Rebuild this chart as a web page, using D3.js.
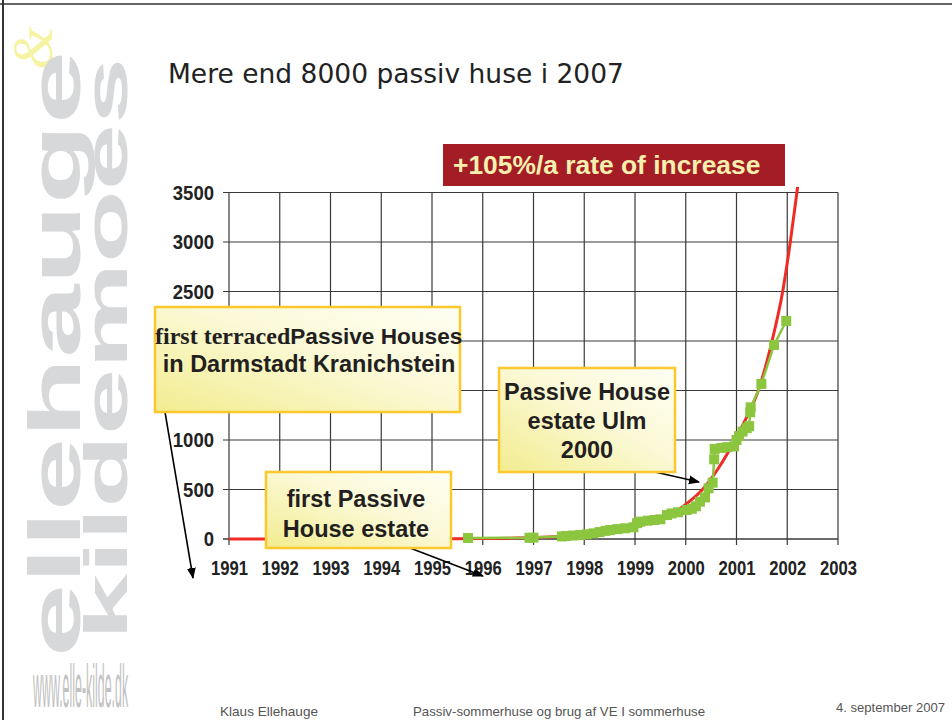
<!DOCTYPE html>
<html>
<head>
<meta charset="utf-8">
<script src="https://cdn.jsdelivr.net/npm/d3@7/dist/d3.min.js"></script>
<style>
  body { margin: 0; background: #fff; }
  svg { display: block; }
</style>
</head>
<body>
<div id="chart"></div>
<script>
// x axis: years shown on the chart
var yearTicks = d3.range(1991, 2004);
var valueTicks = [0, 500, 1000, 1500, 2000, 2500, 3000, 3500];
// 1500 and 2000 sit behind the Darmstadt note box in the original
var hiddenLabels = [1500, 2000];

// green series: cumulative number of passive houses
var houseYears = [1995.71, 1996.92, 1997.0, 1997.56, 1997.64, 1997.78, 1997.92, 1998.05, 1998.18,
  1998.3, 1998.42, 1998.51, 1998.65, 1998.8, 1998.97, 1999.04, 1999.1, 1999.25, 1999.38, 1999.5,
  1999.63, 1999.72, 1999.85, 2000.02, 2000.12, 2000.2, 2000.28, 2000.38, 2000.45, 2000.53,
  2000.56, 2000.57, 2000.7, 2000.82, 2000.95, 2001.0, 2001.05, 2001.12, 2001.2, 2001.25,
  2001.27, 2001.28, 2001.49, 2001.74, 2001.98];
var houseCounts = [10, 12, 14, 26, 30, 35, 40, 48, 57,
  70, 82, 91, 100, 108, 118, 160, 175, 185, 192, 199,
  242, 258, 270, 293, 305, 330, 377, 420, 512, 569,
  805, 910, 920, 928, 935, 1000, 1040, 1085, 1120, 1140,
  1280, 1330, 1566, 1960, 2202];

// red trend line "+105%/a"
var trendYears = [1991, 1993, 1995, 1996, 1997, 1998, 1999, 2000, 2000.33, 2000.65, 2000.97, 2001.2, 2001.43, 2001.7, 2001.91, 2002.06, 2002.19, 2002.24];
var trendValues = [0, 1, 3, 5, 14, 40, 120, 350, 500, 720, 1000, 1230, 1500, 2000, 2500, 3000, 3500, 3700];

var width = 952, height = 720;

var svg = d3.select('#chart')
  .append('svg')
  .attr('width', width)
  .attr('height', height)
  .style('font-family', 'Liberation Sans, Arial, sans-serif')
;

var defs = svg.append('defs');

var grad = defs.append('linearGradient')
  .attr('id', 'boxfill')
  .attr('x1', '0').attr('y1', '1')
  .attr('x2', '1').attr('y2', '0')
;
grad.append('stop').attr('offset', '0').attr('stop-color', '#f2ec8f');
grad.append('stop').attr('offset', '0.55').attr('stop-color', '#fbf9d6');
grad.append('stop').attr('offset', '1').attr('stop-color', '#fffff4');

defs.append('marker')
  .attr('id', 'arrow')
  .attr('viewBox', '0 0 10 10')
  .attr('refX', 9).attr('refY', 5)
  .attr('markerWidth', 7).attr('markerHeight', 7)
  .attr('orient', 'auto')
  .append('path')
  .attr('d', 'M0,1 L10,5 L0,9 z')
  .attr('fill', '#000')
;

defs.append('clipPath')
  .attr('id', 'plotclip')
  .append('rect')
  .attr('x', 220).attr('y', 187)
  .attr('width', 640).attr('height', 370)
;

// slide frame
svg.append('line')
  .attr('x1', 3).attr('x2', 3).attr('y1', 0).attr('y2', height)
  .attr('stroke', '#333').attr('stroke-width', 2);
svg.append('line')
  .attr('x1', 0).attr('x2', width).attr('y1', 4).attr('y2', 4)
  .attr('stroke', '#333').attr('stroke-width', 1.5);

// watermark logo on the left
var logo = svg.append('g').attr('class', 'logo');
logo.append('text')
  .attr('transform', 'translate(52,48) rotate(-90)')
  .attr('text-anchor', 'middle')
  .attr('font-family', 'Liberation Serif, serif')
  .attr('font-style', 'italic')
  .attr('font-size', 56)
  .attr('fill', '#f6f3a2')
  .text('&');
logo.append('text')
  .attr('transform', 'translate(80,657) rotate(-90) scale(1.8,1)')
  .attr('font-size', 73)
  .attr('font-weight', 'bold')
  .attr('fill', '#d6d8da')
  .text('ellehauge');
logo.append('text')
  .attr('transform', 'translate(127,640) rotate(-90) scale(1.92,1)')
  .attr('font-size', 62)
  .attr('font-weight', 'bold')
  .attr('fill', '#d6d8da')
  .text('kildemoes');
logo.append('text')
  .attr('transform', 'translate(33,707) scale(0.3,1)')
  .attr('font-size', 62)
  .attr('fill', '#c2c2c2')
  .attr('textLength', 317)
  .attr('lengthAdjust', 'spacingAndGlyphs')
  .text('www.elle-kilde.dk');

// title
svg.append('text')
  .attr('x', 168).attr('y', 83)
  .attr('font-family', 'DejaVu Sans, Verdana, sans-serif')
  .attr('font-size', 26.5)
  .attr('fill', '#222')
  .text('Mere end 8000 passiv huse i 2007');

// scales
var x = d3.scaleLinear().domain([1991, 2003]).range([229, 838]);
var y = d3.scaleLinear().domain([0, 3500]).range([539, 192.5]);

var plot = svg.append('g');

// grid
plot.append('g')
  .selectAll('line.h')
  .data(valueTicks)
  .enter()
  .append('line')
  .attr('x1', x(1991) - 6).attr('x2', x(2003))
  .attr('y1', function(d) { return y(d); })
  .attr('y2', function(d) { return y(d); })
  .attr('stroke', '#3a3a3a')
  .attr('stroke-width', function(d) { return d === 0 ? 1.6 : 1.2; })
;
plot.append('g')
  .selectAll('line.v')
  .data(yearTicks)
  .enter()
  .append('line')
  .attr('x1', function(d) { return x(d); })
  .attr('x2', function(d) { return x(d); })
  .attr('y1', y(3500)).attr('y2', y(0) + 6)
  .attr('stroke', '#3a3a3a')
  .attr('stroke-width', 1.2)
;

// axis labels via d3 axes (lines hidden, grid above draws them)
var xAxis = plot.append('g')
  .attr('transform', 'translate(0,' + y(0) + ')')
  .call(d3.axisBottom(x).tickValues(yearTicks).tickFormat(d3.format('d')).tickSize(0).tickPadding(36));
var yAxis = plot.append('g')
  .attr('transform', 'translate(' + x(1991) + ',0)')
  .call(d3.axisLeft(y)
    .tickValues(valueTicks)
    .tickFormat(function(d) { return hiddenLabels.indexOf(d) === -1 ? d3.format('d')(d) : ''; })
    .tickSize(0).tickPadding(15));

[xAxis, yAxis].forEach(function(a) {
  a.select('.domain').remove();
  a.selectAll('text')
    .attr('font-family', 'Liberation Sans, Arial, sans-serif')
    .attr('font-weight', 'bold')
    .attr('fill', '#222');
});
xAxis.selectAll('text')
  .attr('font-size', 19.5)
  .attr('dy', '0')
  .attr('textLength', 37)
  .attr('lengthAdjust', 'spacingAndGlyphs');
yAxis.selectAll('text')
  .filter(function(d) { return hiddenLabels.indexOf(d) === -1; })
  .attr('font-size', 20.5)
  .attr('textLength', function(d) { return String(d).length * 10.3; })
  .attr('lengthAdjust', 'spacingAndGlyphs');

// trend curve
var trendLine = d3.line()
  .x(function(d) { return x(d[0]); })
  .y(function(d) { return y(d[1]); })
  .curve(d3.curveMonotoneX);

plot.append('path')
  .datum(d3.zip(trendYears, trendValues))
  .attr('d', trendLine)
  .attr('clip-path', 'url(#plotclip)')
  .attr('fill', 'none')
  .attr('stroke', '#ee2b24')
  .attr('stroke-width', 3)
;

// green data series
var houses = d3.zip(houseYears, houseCounts);
var houseLine = d3.line()
  .x(function(d) { return x(d[0]); })
  .y(function(d) { return y(d[1]); });

plot.append('path')
  .datum(houses)
  .attr('d', houseLine)
  .attr('fill', 'none')
  .attr('stroke', '#8cc63f')
  .attr('stroke-width', 2.5)
;
plot.append('g')
  .selectAll('rect')
  .data(houses)
  .enter()
  .append('rect')
  .attr('x', function(d) { return x(d[0]) - 5; })
  .attr('y', function(d) { return y(d[1]) - 5; })
  .attr('width', 10).attr('height', 10)
  .attr('fill', '#8cc63f')
;

// red headline box
svg.append('rect')
  .attr('x', 443).attr('y', 144)
  .attr('width', 342).attr('height', 42)
  .attr('fill', '#a31c26');
svg.append('text')
  .attr('x', 453).attr('y', 174)
  .attr('font-size', 26.4)
  .attr('font-weight', 'bold')
  .attr('fill', '#f6efae')
  .text('+105%/a rate of increase');

// annotation boxes
function noteBox(bx, by, bw, bh) {
  svg.append('rect')
    .attr('x', bx).attr('y', by)
    .attr('width', bw).attr('height', bh)
    .attr('fill', 'url(#boxfill)')
    .attr('stroke', '#fcc82c')
    .attr('stroke-width', 2.5);
}
function arrow(x1, y1, x2, y2) {
  svg.append('line')
    .attr('x1', x1).attr('y1', y1)
    .attr('x2', x2).attr('y2', y2)
    .attr('stroke', '#000')
    .attr('stroke-width', 1.6)
    .attr('marker-end', 'url(#arrow)');
}
function noteText(cx, lines, y0, lh) {
  lines.forEach(function(s, i) {
    svg.append('text')
      .attr('x', cx).attr('y', y0 + i * lh)
      .attr('text-anchor', 'middle')
      .attr('font-size', 23.5)
      .attr('font-weight', 'bold')
      .attr('fill', '#231f20')
      .text(s);
  });
}

arrow(165, 412, 193, 578);
noteBox(155, 307, 305, 105);
var t1 = svg.append('text')
  .attr('x', 155).attr('y', 344)
  .attr('font-weight', 'bold')
  .attr('fill', '#231f20');
t1.append('tspan')
  .attr('font-family', 'Liberation Serif, Times New Roman, serif')
  .attr('font-size', 24)
  .text('first terraced');
t1.append('tspan')
  .attr('font-size', 22.6)
  .text('Passive Houses');
noteText(309, ['in Darmstadt Kranichstein'], 372, 0);

arrow(410, 548, 483, 576);
noteBox(266, 472, 185, 76);
noteText(356, ['first Passive', 'House estate'], 507, 29.5);

arrow(655, 472, 699, 482);
noteBox(499, 368, 176, 104);
noteText(587, ['Passive House', 'estate Ulm', '2000'], 400, 29);

// footer
var footer = svg.append('g')
  .attr('font-size', 13)
  .attr('fill', '#555');
footer.append('text').attr('x', 220).attr('y', 716)
  .attr('textLength', 98).attr('lengthAdjust', 'spacingAndGlyphs')
  .text('Klaus Ellehauge');
footer.append('text').attr('x', 413).attr('y', 716)
  .attr('textLength', 292).attr('lengthAdjust', 'spacingAndGlyphs')
  .text('Passiv-sommerhuse og brug af VE I sommerhuse');
footer.append('text').attr('x', 836).attr('y', 712)
  .attr('textLength', 109).attr('lengthAdjust', 'spacingAndGlyphs')
  .text('4. september 2007');
</script>
</body>
</html>
